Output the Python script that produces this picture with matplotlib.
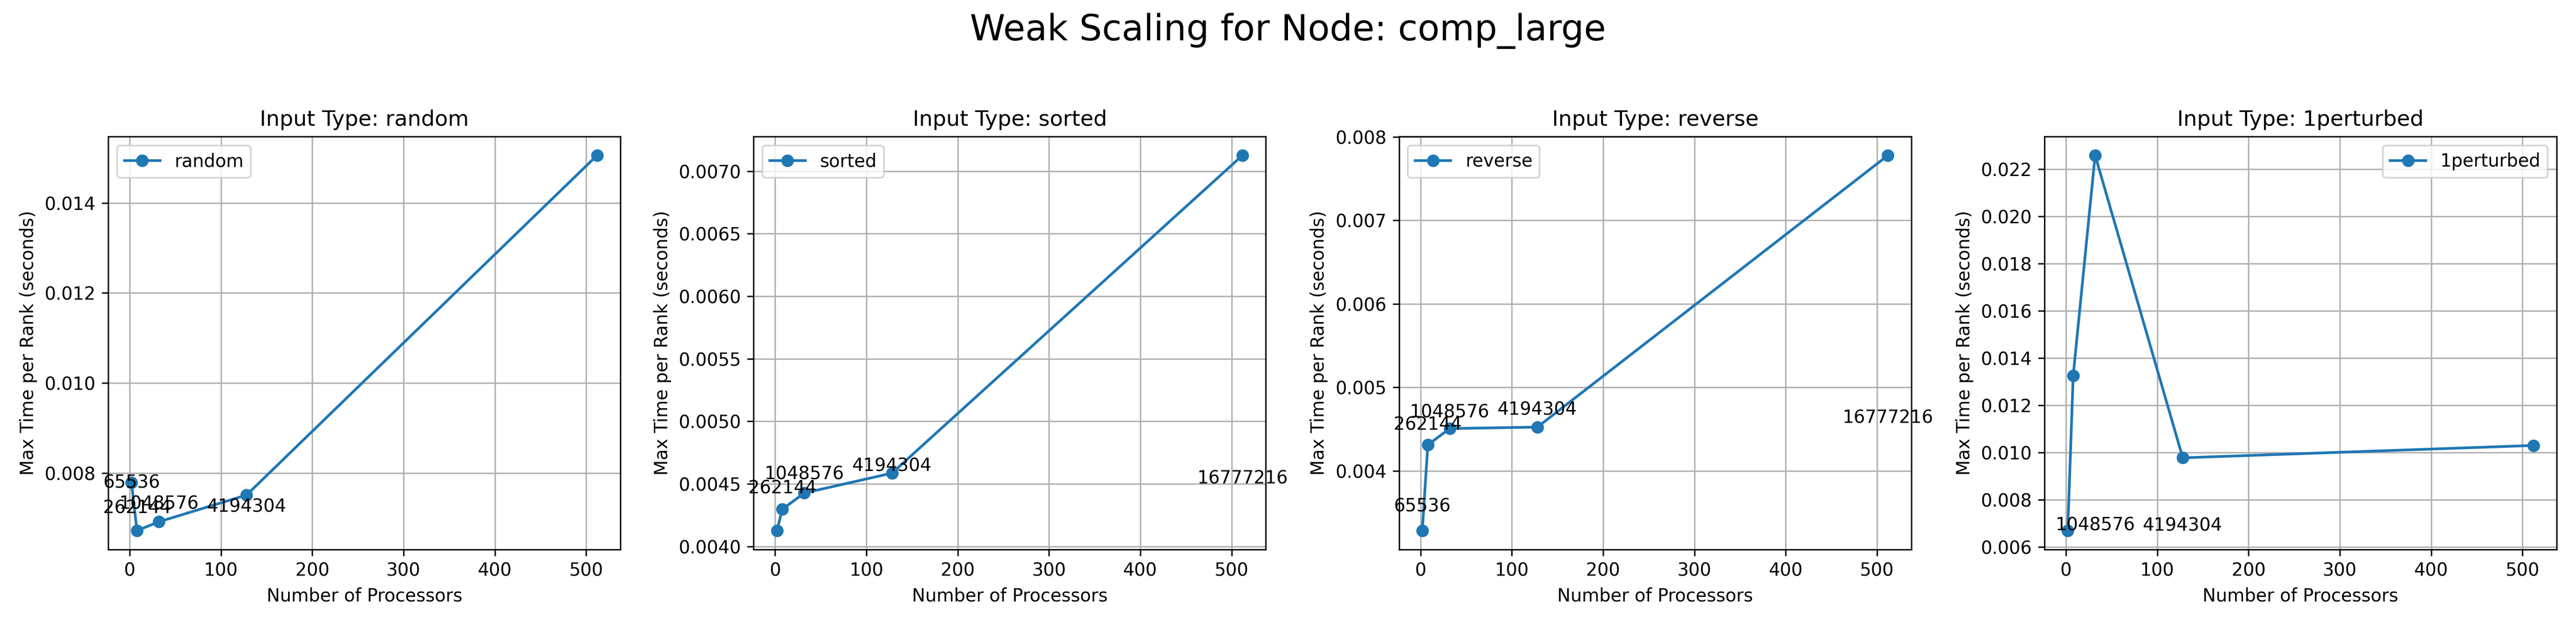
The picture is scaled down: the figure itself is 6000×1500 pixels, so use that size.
import matplotlib
matplotlib.use("Agg")
import matplotlib.pyplot as plt

node = "comp_large"
input_types = ["random", "sorted", "reverse", "1perturbed"]
procs = [2, 8, 32, 128, 512]
sizes = [65536, 262144, 1048576, 4194304, 16777216]

# max time per rank (seconds)
random_time = [0.00779, 0.006725, 0.00692, 0.007514, 0.015058]
sorted_time = [0.004127, 0.004298, 0.004427, 0.004586, 0.007127]
reverse_time = [0.003285, 0.004311, 0.004507, 0.004524, 0.00778]
perturbed_time = [0.006686, 0.013256, 0.022581, 0.009767, 0.010291]

# y values used for the size annotations
random_label_y = [0.007279, 0.006713, 0.006809, 0.006745, 0.0060]
sorted_label_y = [0.0039, 0.004279, 0.004394, 0.004459, 0.004359]
reverse_label_y = [0.003296, 0.004278, 0.004425, 0.004457, 0.004359]
perturbed_label_y = [0.0058, 0.0058, 0.005927, 0.005915, 0.0058]

times = [random_time, sorted_time, reverse_time, perturbed_time]
label_ys = [random_label_y, sorted_label_y, reverse_label_y, perturbed_label_y]

fig, axes = plt.subplots(1, 4, figsize=(20, 5), dpi=300)
fig.suptitle(f"Weak Scaling for Node: {node}", fontsize=20)

for ax, itype, t, ly in zip(axes, input_types, times, label_ys):
    ax.plot(procs, t, marker='o', label=itype)
    for p, s, y in zip(procs, sizes, ly):
        ax.annotate(str(s), (p, y), textcoords="offset points", xytext=(0, 10), ha='center')
    ax.set_title(f"Input Type: {itype}")
    ax.set_xlabel("Number of Processors")
    ax.set_ylabel("Max Time per Rank (seconds)")
    ax.legend()
    ax.grid(True)

plt.subplots_adjust(left=0.042, right=0.9925, bottom=0.147, top=0.788, wspace=0.26)
plt.savefig("out.png")
